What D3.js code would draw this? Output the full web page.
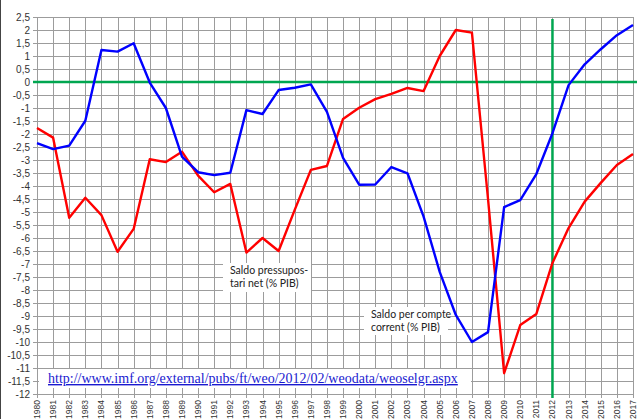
<!DOCTYPE html>
<html>
<head>
<meta charset="utf-8">
<script src="https://cdn.jsdelivr.net/npm/d3@7"></script>
<style>
  body { margin: 0; background: #fff; }
  svg { display: block; }
</style>
</head>
<body>
<script>
// years on the x axis
var years = d3.range(1980, 2018);

// Saldo pressupostari net (% PIB) - blue
var budget = [-2.35, -2.58, -2.45, -1.49, 1.23, 1.17, 1.49, -0.02, -1.0, -2.87,
  -3.47, -3.58, -3.49, -1.08, -1.23, -0.31, -0.22, -0.09, -1.15, -2.92,
  -3.95, -3.94, -3.27, -3.51, -5.18, -7.3, -8.96, -10.0, -9.62, -4.81,
  -4.54, -3.54, -1.97, -0.12, 0.68, 1.26, 1.8, 2.19];

// Saldo per compte corrent (% PIB) - red
var current = [-1.77, -2.14, -5.22, -4.45, -5.12, -6.53, -5.65, -2.97, -3.08, -2.68,
  -3.6, -4.24, -3.92, -6.56, -6.0, -6.5, -4.92, -3.38, -3.23, -1.42,
  -0.99, -0.66, -0.46, -0.23, -0.35, 1.0, 2.0, 1.9, -4.5, -11.2,
  -9.35, -8.92, -6.96, -5.62, -4.6, -3.88, -3.19, -2.77];

var yTicks = d3.range(-12, 2.51, 0.5);
var markYear = 2012;
var url = "http://www.imf.org/external/pubs/ft/weo/2012/02/weodata/weoselgr.aspx";

// plot area (names kept off window.top)
var par = { w: 642, h: 419, left: 37, right: 633, top: 17, bottom: 394 };

var svg = d3.select("body").append("svg")
  .attr("width", par.w).attr("height", par.h);

var x = d3.scaleLinear().domain([1980, 2017]).range([par.left, par.right]);
var y = d3.scaleLinear().domain([-12, 2.5]).range([par.bottom, par.top]);

// left border of the picture
svg.append("line")
  .attr("x1", 0.5).attr("x2", 0.5).attr("y1", 0).attr("y2", par.h)
  .style("stroke", "#444").style("stroke-width", 1);

// grid
var grid = svg.append("g");
grid.selectAll(".hg").data(yTicks).enter().append("line")
  .attr("x1", par.left - 4).attr("x2", par.right)
  .attr("y1", function(d){ return Math.round(y(d)) + 0.5; })
  .attr("y2", function(d){ return Math.round(y(d)) + 0.5; })
  .style("stroke", "#9c9c9c").style("stroke-width", 1);
grid.selectAll(".vg").data(years).enter().append("line")
  .attr("x1", function(d){ return Math.round(x(d)) + 0.5; })
  .attr("x2", function(d){ return Math.round(x(d)) + 0.5; })
  .attr("y1", par.top).attr("y2", par.bottom + 4)
  .style("stroke", "#9c9c9c").style("stroke-width", 1);

// y axis labels
svg.append("g").selectAll("text").data(yTicks).enter().append("text")
  .attr("x", par.left - 7)
  .attr("y", function(d){ return y(d) + 3.5; })
  .attr("text-anchor", "end")
  .style("font-family", "Liberation Sans, Arial, sans-serif")
  .style("font-size", "10px")
  .style("fill", "#333")
  .text(function(d){ return String(d).replace(".", ","); });

// x axis labels (rotated)
svg.append("g").selectAll("text").data(years).enter().append("text")
  .attr("transform", function(d){ return "translate(" + (x(d) + 3) + "," + (par.bottom + 6) + ") rotate(-90)"; })
  .attr("text-anchor", "end")
  .style("font-family", "Liberation Sans, Arial, sans-serif")
  .style("font-size", "8.5px")
  .style("fill", "#333")
  .text(function(d){ return d; });

// url box
svg.append("rect")
  .attr("x", par.left + 2).attr("y", 369).attr("width", 432).attr("height", 19)
  .style("fill", "#fff");
svg.append("text")
  .attr("x", 48).attr("y", 383)
  .style("font-family", "Liberation Serif, Times New Roman, serif")
  .style("font-size", "14px")
  .style("fill", "#1a1ad0")
  .style("text-decoration", "underline")
  .text(url);

// green reference lines
svg.append("line")
  .attr("x1", par.left - 4).attr("x2", 637)
  .attr("y1", y(0)).attr("y2", y(0))
  .style("stroke", "#00a650").style("stroke-width", 2.5);
svg.append("line")
  .attr("x1", x(markYear)).attr("x2", x(markYear))
  .attr("y1", par.top + 2).attr("y2", par.bottom + 4)
  .style("stroke", "#00a650").style("stroke-width", 2.5);

// label boxes
var place_label = function(lines, bx, by, bw, bh){
  svg.append("rect")
    .attr("x", bx).attr("y", by).attr("width", bw).attr("height", bh)
    .style("fill", "#fff");
  var t = svg.append("text")
    .style("font-family", "Lato, Open Sans, sans-serif")
    .style("font-size", "10.5px")
    .style("fill", "#222");
  lines.forEach(function(l, i){
    t.append("tspan").attr("x", bx + 7).attr("y", by + 11 + i * 13).text(l);
  });
};

// data lines
var line = d3.line()
  .x(function(d, i){ return x(years[i]); })
  .y(function(d){ return y(d); });

svg.append("path").datum(current)
  .attr("d", line)
  .style("fill", "none").style("stroke", "#ff0000").style("stroke-width", 2.4)
  .style("stroke-linejoin", "round");

place_label(["Saldo pressupos-", "tari net (% PIB)"], 223, 263, 88, 29);

svg.append("path").datum(budget)
  .attr("d", line)
  .style("fill", "none").style("stroke", "#0000ff").style("stroke-width", 2.4)
  .style("stroke-linejoin", "round");

place_label(["Saldo per compte", "corrent (% PIB)"], 364, 307, 84, 28);
</script>
</body>
</html>
